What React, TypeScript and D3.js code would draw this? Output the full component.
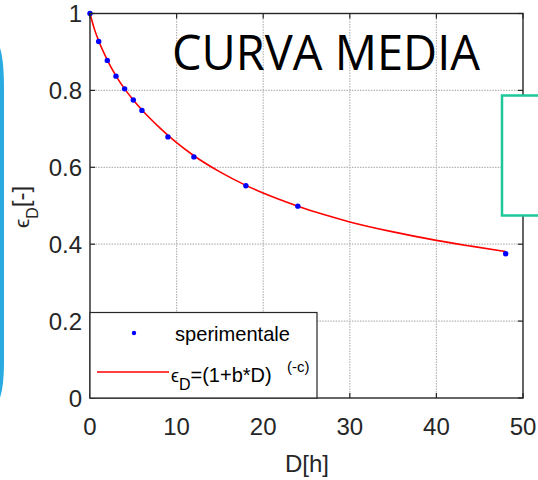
import React from 'react';
import * as d3 from 'd3';

// measured points (D in hours, epsilon_D)
const hours = [0, 1, 2, 3, 4, 5, 6, 9, 12, 18, 24, 48];
const epsMeasured = [1.0, 0.927, 0.878, 0.837, 0.804, 0.775, 0.748, 0.679, 0.627, 0.552, 0.499, 0.375];

// fitted curve
const curveHours = [0, 0.5, 1, 2, 3, 4, 5, 6, 8, 10, 12, 15, 18, 21, 24, 27, 30, 35, 40, 44, 48];
const curveEps = [1.0, 0.96, 0.929, 0.879, 0.838, 0.804, 0.775, 0.749, 0.704, 0.664, 0.630, 0.588, 0.553, 0.524, 0.499, 0.477, 0.458, 0.432, 0.410, 0.395, 0.381];

const xTicks = [0, 10, 20, 30, 40, 50];
const yTicks = [0, 0.2, 0.4, 0.6, 0.8, 1];

const axisColor = '#262626';
const gridColor = '#b4b4b4';

export default function App() {
  const width = 538;
  const height = 480;
  const margin = { top: 13.5, right: 15, bottom: 82, left: 90 };

  const x = d3.scaleLinear().domain([0, 50]).range([margin.left, width - margin.right]);
  const y = d3.scaleLinear().domain([0, 1]).range([height - margin.bottom, margin.top]);

  const line = d3.line<number>()
    .x((d) => x(d))
    .y((_, i) => y(curveEps[i]))
    .curve(d3.curveMonotoneX);

  const x0 = x(0), x1 = x(50), y0 = y(0), y1 = y(1);
  const tick = 5;
  const font = '"Liberation Sans", Arial, sans-serif';

  return (
    <svg width={width} height={height} style={{ position: 'absolute', left: 0, top: 0, background: '#fff' }}>
      {/* grid */}
      <g stroke={gridColor} strokeWidth={1.2} strokeDasharray="1.5 1.2">
        {xTicks.slice(1, -1).map((t) => (
          <line key={'gx' + t} x1={x(t)} x2={x(t)} y1={y0} y2={y1} />
        ))}
        {yTicks.slice(1, -1).map((t) => (
          <line key={'gy' + t} x1={x0} x2={x1} y1={y(t)} y2={y(t)} />
        ))}
      </g>

      {/* title */}
      <text x={172} y={70} fontFamily='"Open Sans", sans-serif' fontSize={49} fill="#000"
        textLength={308} lengthAdjust="spacingAndGlyphs">CURVA MEDIA</text>

      {/* fitted curve */}
      <path d={line(curveHours) || ''} fill="none" stroke="#ff0000" strokeWidth={1.6} />

      {/* measured points */}
      {hours.map((h, i) => (
        <circle key={'p' + i} cx={x(h)} cy={y(epsMeasured[i])} r={2.7} fill="#0000ff" />
      ))}

      {/* axes box */}
      <rect x={x0} y={y1} width={x1 - x0} height={y0 - y1} fill="none" stroke={axisColor} strokeWidth={1.4} />
      <g stroke={axisColor} strokeWidth={1.2}>
        {xTicks.map((t) => (
          <g key={'tx' + t}>
            <line x1={x(t)} x2={x(t)} y1={y0} y2={y0 - tick} />
            <line x1={x(t)} x2={x(t)} y1={y1} y2={y1 + tick} />
          </g>
        ))}
        {yTicks.map((t) => (
          <g key={'ty' + t}>
            <line x1={x0} x2={x0 + tick} y1={y(t)} y2={y(t)} />
            <line x1={x1} x2={x1 - tick} y1={y(t)} y2={y(t)} />
          </g>
        ))}
      </g>

      {/* tick labels */}
      <g fontFamily={font} fontSize={24} fill={axisColor}>
        {xTicks.map((t) => (
          <text key={'lx' + t} x={x(t)} y={435} textAnchor="middle">{t}</text>
        ))}
        {yTicks.map((t) => (
          <text key={'ly' + t} x={82} y={y(t)} dy="0.36em" textAnchor="end">{t}</text>
        ))}
      </g>

      {/* axis labels */}
      <text x={307} y={472} fontFamily={font} fontSize={24} fill={axisColor} textAnchor="middle">D[h]</text>
      <text transform="translate(29,207) rotate(-90)" fontFamily={font} fontSize={24} fill={axisColor} textAnchor="middle">
        <tspan fontSize={21}>ϵ</tspan>
        <tspan fontSize={16} dy={9}>D</tspan>
        <tspan dy={-9}>[-]</tspan>
      </text>

      {/* legend */}
      <rect x={x0} y={312.5} width={227} height={y0 - 312.5} fill="#fff" stroke={axisColor} strokeWidth={1.2} />
      <circle cx={134} cy={333} r={2.2} fill="#0000ff" />
      <text x={175} y={341} fontFamily={font} fontSize={21} fill="#000" textLength={115} lengthAdjust="spacingAndGlyphs">sperimentale</text>
      <line x1={97} x2={169} y1={372} y2={372} stroke="#ff0000" strokeWidth={1.4} />
      <text x={171} y={382} fontFamily={font} fontSize={20} fill="#000">
        <tspan fontSize={18}>ϵ</tspan>
        <tspan fontSize={16} dy={8}>D</tspan>
        <tspan dy={-8}>=(1+b*D)</tspan>
        <tspan x={287} fontSize={15} dy={-10}>(-c)</tspan>
      </text>

      {/* overlays from the slide */}
      <rect x={502} y={95.5} width={50} height={120} fill="#fff" stroke="#1dc99b" strokeWidth={2.5} />
      <path d="M0,48 Q4,60 4,90 L4,362 Q4,386 0,398 Z" fill="#29abe2" />
    </svg>
  );
}
